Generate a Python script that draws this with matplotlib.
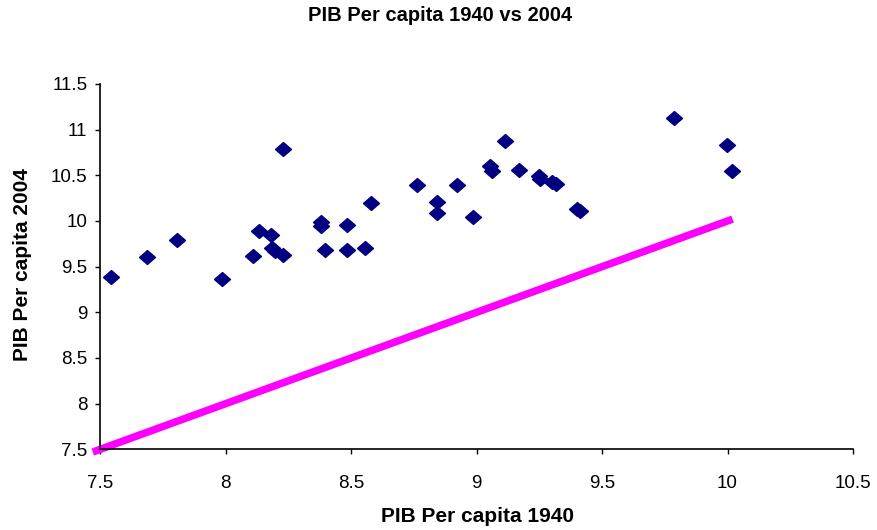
import matplotlib
matplotlib.use("Agg")
import matplotlib.pyplot as plt
import numpy as np

plt.rcParams['font.family'] = ['Liberation Sans', 'DejaVu Sans']

title = "PIB Per capita 1940 vs 2004"
xlabel = "PIB Per capita 1940"
ylabel = "PIB Per capita 2004"

pib_1940 = [7.541, 7.685, 7.804, 7.984, 8.229, 8.107, 8.133, 8.180, 8.185, 8.198, 8.227,
            8.379, 8.381, 8.396, 8.483, 8.483, 8.556, 8.579,
            8.762, 8.922, 8.843, 8.843, 8.985, 9.053, 9.060, 9.113, 9.169,
            9.248, 9.252, 9.300, 9.315, 9.400, 9.410, 9.788, 9.999, 10.019]
pib_2004 = [9.388, 9.608, 9.790, 9.366, 10.793, 9.614, 9.889, 9.845, 9.705, 9.672, 9.625,
            9.985, 9.945, 9.677, 9.959, 9.677, 9.702, 10.200,
            10.398, 10.398, 10.207, 10.090, 10.047, 10.602, 10.547, 10.873, 10.563,
            10.490, 10.455, 10.430, 10.400, 10.130, 10.105, 11.133, 10.837, 10.547]

line_x = [7.47, 10.02]
line_y = [7.47, 10.02]

xticks = [7.5, 8, 8.5, 9, 9.5, 10, 10.5]
yticks = [7.5, 8, 8.5, 9, 9.5, 10, 10.5, 11, 11.5]

W, H = 877, 530
fig = plt.figure(figsize=(W / 100, H / 100), dpi=100)
ax = fig.add_axes([100.3 / W, (H - 449.3) / H, (853 - 100.3) / W, (449.3 - 84) / H])

ax.plot(line_x, line_y, color='#FF00FF', lw=5.4, solid_capstyle='butt', zorder=2, clip_on=False)

diamond = [(-1, 0), (0, 0.87), (1, 0), (0, -0.87), (-1, 0)]
ax.plot(pib_1940, pib_2004, linestyle='none', marker=diamond, ms=11.5,
        color='#000080', mec='#000080', zorder=3, clip_on=False)

ax.set_xlim(7.5, 10.5)
ax.set_ylim(7.5, 11.5)
ax.set_xticks(xticks)
ax.set_yticks(yticks)
ax.set_xticklabels([f"{v:g}" for v in xticks])
ax.set_yticklabels([f"{v:g}" for v in yticks])
ax.tick_params(axis='both', direction='out', length=3.6, width=1, labelsize=13.5, colors='black')
ax.tick_params(axis='x', pad=15)
ax.tick_params(axis='y', pad=5.7)

for s in ['top', 'right']:
    ax.spines[s].set_visible(False)
for s in ['left', 'bottom']:
    ax.spines[s].set_linewidth(1.2)
    ax.spines[s].set_color('black')

fig.text(477 / W, 1 - 516.5 / H, xlabel, ha='center', va='center', fontsize=15, fontweight='bold')
fig.text(23 / W, 1 - 265 / H, ylabel, ha='center', va='center', rotation=90,
         fontsize=15, fontweight='bold')
fig.text(440 / W, 1 - 15.5 / H, title, ha='center', va='center', fontsize=14.5, fontweight='bold')

fig.savefig("out.png", dpi=100, facecolor='white')
